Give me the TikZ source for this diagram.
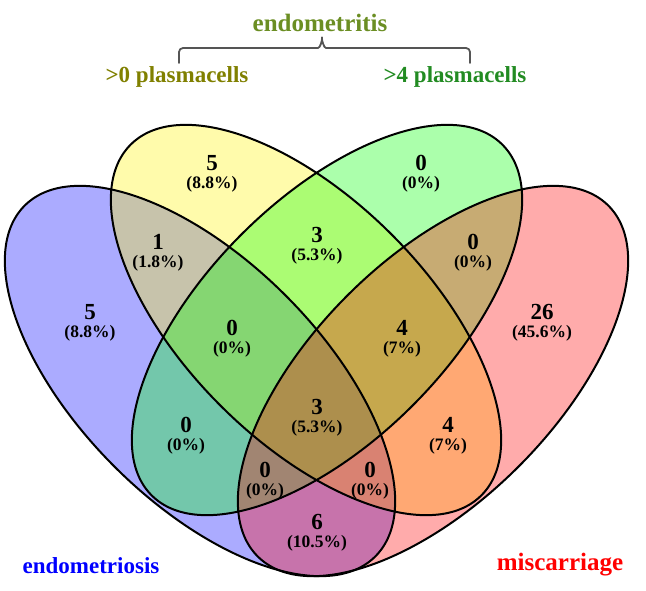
\documentclass[tikz,border=0pt]{standalone}
\usepackage{fontspec}
\setmainfont{Liberation Serif}
\usepackage{tikz}
\usetikzlibrary{positioning}
\usepackage{xcolor}
\definecolor{olivegreen}{RGB}{107, 142, 35}
\definecolor{darkolive}{RGB}{128, 128, 0}
\definecolor{forestgreen}{RGB}{34, 139, 34}
\definecolor{bracegray}{RGB}{85, 85, 85}

\newcommand{\region}[4]{% name, position, count, percent
	\node[num] (n#1) at (#2) {#3};
	\node[pct, below=2.25pt of n#1] (p#1) {(#4\%)};
}

\begin{document}
\begin{tikzpicture}[x=0.5pt, y=0.5pt, line cap=round, line join=round,
	num/.style={inner sep=0pt, font=\fontsize{11.5}{13}\selectfont\bfseries},
	pct/.style={inner sep=0pt, font=\fontsize{8.75}{10}\selectfont\bfseries},
	lbl/.style={inner sep=0pt, anchor=base, font=\fontsize{11.5}{13}\selectfont\bfseries}]
	\useasboundingbox (0,0) rectangle (646,590);
	
	% sets: fills first, outlines on top
	\foreach \col/\cx/\cy/\ang in {blue/200/209/-45, yellow/306/270/-45, green/327/270/45, red/433/209/45}
		\fill[\col, fill opacity=0.33, rotate around={\ang:(\cx,\cy)}] (\cx,\cy) ellipse [x radius=248, y radius=121];
	\foreach \cx/\cy/\ang in {200/209/-45, 306/270/-45, 327/270/45, 433/209/45}
		\draw[black, line width=1pt, rotate around={\ang:(\cx,\cy)}] (\cx,\cy) ellipse [x radius=248, y radius=121];
	
	% counts
	\region{A}{90,278}{5}{8.8}
	\region{B}{212,427}{5}{8.8}
	\region{C}{421,427}{0}{0}
	\region{D}{542,278}{26}{45.6}
	\region{AB}{158,348}{1}{1.8}
	\region{BC}{317,355}{3}{5.3}
	\region{CD}{473,348}{0}{0}
	\region{ABC}{232,262}{0}{0}
	\region{BCD}{402,262}{4}{7}
	\region{ABCD}{317,183}{3}{5.3}
	\region{AC}{186,165}{0}{0}
	\region{BD}{448,165}{4}{7}
	\region{ACD}{265,120}{0}{0}
	\region{ABD}{370,120}{0}{0}
	\region{AD}{317,68}{6}{10.5}
	
	% labels
	\node[lbl, text=olivegreen, font=\fontsize{12.5}{14}\selectfont\bfseries] (endometritis) at (320,558) {endometritis};
	\node[lbl, text=darkolive] (plasma0) at (177,507) {>0 plasmacells};
	\node[lbl, text=forestgreen] (plasma4) at (455,507) {>4 plasmacells};
	\node[lbl, text=blue] (endometriosis) at (91,17) {endometriosis};
	\node[lbl, text=red, font=\fontsize{12.5}{14}\selectfont\bfseries] (miscarriage) at (560,20) {miscarriage};
	
	% bracket
	\coordinate (brL) at (179,527);
	\coordinate (brR) at (470,527);
	\coordinate (brT) at (322,555);
	\draw[bracegray, line width=0.9pt, rounded corners=2pt] (brL) -- (179,542) -- (314,542) to[out=0,in=-90] (brT) to[out=-90,in=180] (330,542) -- (470,542) -- (brR);
\end{tikzpicture}
\end{document}
